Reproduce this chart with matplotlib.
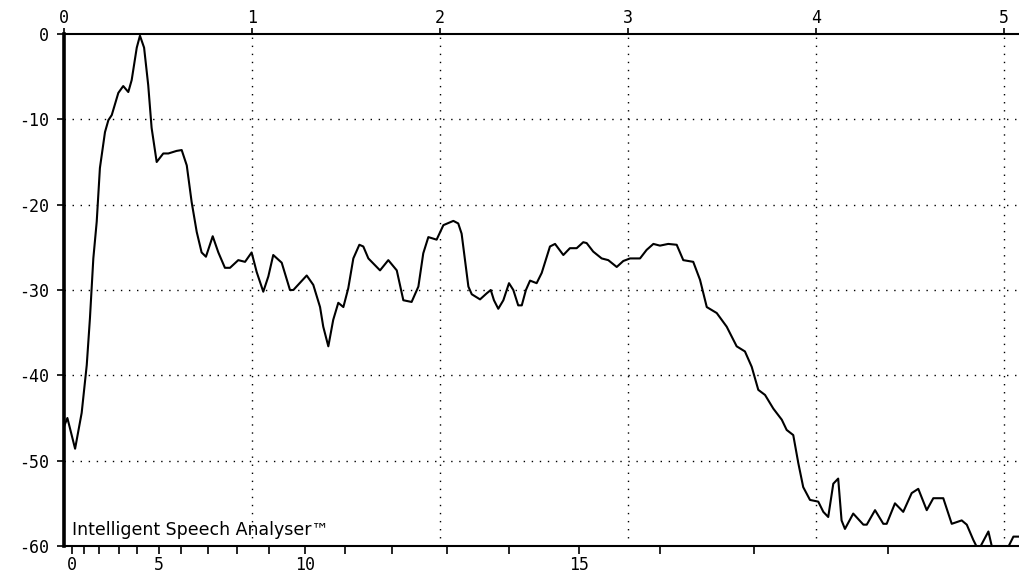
import numpy as np
import matplotlib
matplotlib.use("Agg")
import matplotlib.pyplot as plt

# spectrum: frequency (kHz) and level (dB)
freq_khz = [0.000, 0.018, 0.059, 0.094, 0.121, 0.138, 0.156, 0.174, 0.191, 0.218,
            0.236, 0.254, 0.289, 0.315, 0.342, 0.360, 0.387, 0.404, 0.426, 0.448,
            0.466, 0.493, 0.528, 0.555, 0.599, 0.626, 0.653, 0.679, 0.706, 0.732,
            0.755, 0.791, 0.821, 0.856, 0.883, 0.927, 0.963, 0.998, 1.025, 1.060,
            1.087, 1.113, 1.158, 1.202, 1.220, 1.291, 1.326, 1.362, 1.379, 1.406,
            1.432, 1.459, 1.486, 1.512, 1.539, 1.571, 1.592, 1.619, 1.681, 1.725,
            1.770, 1.805, 1.849, 1.885, 1.911, 1.938, 1.982, 2.018, 2.071, 2.097,
            2.115, 2.133, 2.151, 2.169, 2.213, 2.248, 2.270, 2.287, 2.310, 2.337,
            2.367, 2.390, 2.416, 2.435, 2.457, 2.479, 2.514, 2.541, 2.568, 2.585,
            2.612, 2.656, 2.691, 2.727, 2.762, 2.780, 2.815, 2.860, 2.895, 2.940,
            2.975, 3.011, 3.064, 3.099, 3.135, 3.170, 3.214, 3.259, 3.294, 3.347,
            3.383, 3.419, 3.472, 3.525, 3.578, 3.622, 3.658, 3.693, 3.729, 3.773,
            3.818, 3.844, 3.879, 3.906, 3.932, 3.968, 4.012, 4.039, 4.065, 4.092,
            4.118, 4.136, 4.154, 4.198, 4.252, 4.270, 4.314, 4.358, 4.376, 4.420,
            4.464, 4.509, 4.544, 4.589, 4.624, 4.677, 4.722, 4.775, 4.802, 4.837,
            4.864, 4.917, 4.940, 5.014, 5.050, 5.080]
level_db = [-46.0, -45.0, -48.6, -44.4, -38.8, -33.3, -26.3, -22.0, -15.7, -11.5,
            -10.1, -9.5, -6.9, -6.1, -6.8, -5.4, -1.6, -0.2, -1.6, -6.0,
            -11.0, -15.0, -14.0, -14.0, -13.7, -13.6, -15.4, -19.7, -23.2, -25.6,
            -26.1, -23.7, -25.6, -27.4, -27.4, -26.5, -26.7, -25.6, -27.9, -30.2,
            -28.4, -25.9, -26.8, -30.0, -30.0, -28.3, -29.4, -32.0, -34.3, -36.6,
            -33.5, -31.5, -32.0, -29.8, -26.3, -24.7, -24.9, -26.3, -27.7, -26.5,
            -27.7, -31.2, -31.4, -29.6, -25.7, -23.8, -24.1, -22.4, -21.9, -22.2,
            -23.4, -26.5, -29.6, -30.5, -31.1, -30.4, -30.0, -31.2, -32.2, -31.2,
            -29.2, -30.0, -31.8, -31.8, -30.0, -28.9, -29.2, -28.0, -26.1, -24.9,
            -24.6, -25.9, -25.1, -25.1, -24.4, -24.5, -25.5, -26.3, -26.5, -27.3,
            -26.6, -26.3, -26.3, -25.3, -24.6, -24.8, -24.6, -24.7, -26.5, -26.7,
            -28.8, -32.0, -32.7, -34.3, -36.6, -37.2, -39.0, -41.7, -42.3, -43.9,
            -45.2, -46.4, -47.0, -50.3, -53.1, -54.6, -54.8, -56.0, -56.6, -52.7,
            -52.1, -57.0, -58.0, -56.2, -57.5, -57.5, -55.8, -57.4, -57.4, -55.0,
            -56.0, -53.8, -53.3, -55.8, -54.4, -54.4, -57.4, -57.0, -57.5, -59.3,
            -60.5, -58.3, -60.5, -60.5, -58.9, -58.9]

# top axis (kHz) and left axis (dB)
khz_ticks = [0, 1, 2, 3, 4, 5]
db_ticks = [0, -10, -20, -30, -40, -50, -60]

# bottom axis: critical band (Bark) edges, in kHz
bark_khz = [0.043, 0.106, 0.186, 0.293, 0.388, 0.505, 0.622, 0.766, 0.920, 1.090,
            1.282, 1.495, 1.745, 2.037, 2.367, 2.739, 3.170, 3.670, 4.383]
bark_labels = ['0', '', '', '', '', '5', '', '', '', '',
               '10', '', '', '', '', '15', '', '', '']

W, H = 1019, 577
fig = plt.figure(figsize=(W / 100, H / 100), dpi=100)
ax = fig.add_axes([64 / W, 31 / H, (W - 64) / W, (546 - 34) / H])

mono = 'DejaVu Sans Mono'

for v in khz_ticks[1:]:
    ax.axvline(v, color='black', lw=1.0, ls=(0, (1, 4.8)), zorder=1)
for v in db_ticks[1:-1]:
    ax.axhline(v, color='black', lw=1.0, ls=(0, (1, 4.8)), zorder=1)

ax.plot(freq_khz, level_db, color='black', lw=1.5, zorder=3)

ax.set_xlim(0, (W - 64) / 188)
ax.set_ylim(-60, 0)

ax.spines['right'].set_visible(False)
ax.spines['left'].set_linewidth(2.6)
ax.spines['top'].set_linewidth(1.5)
ax.spines['bottom'].set_linewidth(1.5)

ax.set_yticks(db_ticks)
ax.set_yticklabels([str(v) for v in db_ticks], fontsize=12, family=mono)
ax.tick_params(axis='y', direction='out', length=5, width=1.2, pad=6)

ax.set_xticks(bark_khz)
ax.set_xticklabels(bark_labels, fontsize=12, family=mono)
ax.tick_params(axis='x', direction='out', length=6, width=1.2, pad=1)

top = ax.secondary_xaxis('top')
top.set_xticks(khz_ticks)
top.set_xticklabels([str(v) for v in khz_ticks], fontsize=12, family=mono)
top.tick_params(direction='out', length=4, width=1.2, pad=1)
top.spines['top'].set_visible(False)

ax.text(0.045, -58.7, 'Intelligent Speech Analyser\u2122', fontsize=12.5,
        family='DejaVu Sans', ha='left', va='baseline')

fig.savefig('out.png', dpi=100)
